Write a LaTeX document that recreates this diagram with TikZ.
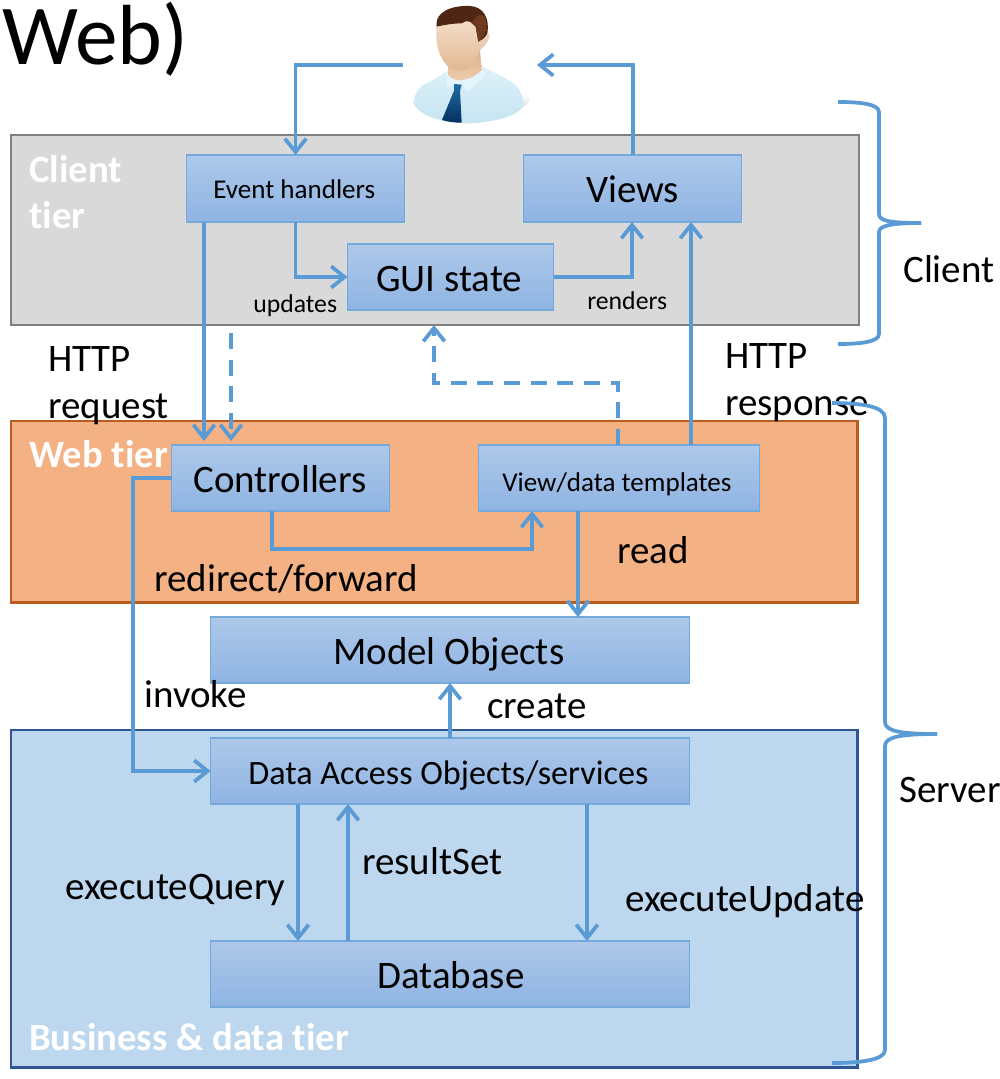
\documentclass[tikz,border=0pt]{standalone}
\usepackage{fontspec}
\setmainfont[Ligatures=NoCommon]{Carlito}
\usetikzlibrary{arrows.meta,positioning,calc}
\definecolor{wire}{HTML}{5B9BD5}
\definecolor{boxtop}{HTML}{ADC8E9}
\definecolor{boxbot}{HTML}{8FB4E3}
\definecolor{webline}{HTML}{B85C20}
\definecolor{webfill}{HTML}{F4B183}
\definecolor{bizline}{HTML}{2F5597}
\definecolor{bizfill}{HTML}{BDD7EE}
\definecolor{hair}{HTML}{4F2613}
\definecolor{hairlight}{HTML}{6E3A1E}
\definecolor{skintop}{HTML}{F6E2CE}
\definecolor{skinbot}{HTML}{E0B48F}
\definecolor{necktop}{HTML}{DDAF8A}
\definecolor{neckbot}{HTML}{F0CFB0}
\definecolor{shirttop}{HTML}{DDF1F9}
\definecolor{shirtbot}{HTML}{C6E4F2}
\definecolor{collar}{HTML}{E3F4FB}
\definecolor{tietop}{HTML}{1F6DA6}
\definecolor{tiebot}{HTML}{06305F}
\tikzset{
  tier/.style={draw=#1,line width=2pt,inner sep=0pt,outer sep=0pt,anchor=north west},
  compbox/.style n args={2}{draw=wire!85,line width=0.9pt,top color=boxtop,bottom color=boxbot,inner sep=0pt,outer sep=0pt,
     anchor=north west,xshift=0.4pt,minimum width=#1*0.75pt,minimum height=#2*0.75pt},
  arr/.style={draw=wire,line width=2.8pt,-{Straight Barb[length=10pt,width=16pt,line width=2.8pt]}},
  darr/.style={arr,dash pattern=on 12pt off 8pt},
  brace/.style={draw=wire,line width=2.8pt},
  lab/.style={font=\fontsize{29.2}{29.2}\selectfont,inner sep=0pt,anchor=base west,yshift=-1.4pt},
  tlab/.style={font=\fontsize{29}{29}\selectfont\bfseries,text=white,inner sep=0pt,anchor=base west,yshift=-1.4pt},
  small/.style={font=\fontsize{20.3}{20.3}\selectfont,inner sep=0pt,anchor=base west,yshift=-1pt},
  tiny/.style={font=\fontsize{19.3}{19.3}\selectfont,inner sep=0pt,anchor=base west,yshift=-1pt},
}
\begin{document}
\begin{tikzpicture}[x=0.75pt,y=-0.75pt]
\useasboundingbox (0,0) rectangle (1000,1079);
% tiers
\node[tier=black!50,fill=black!15,minimum width=636pt,minimum height=142.5pt] (client) at (11,135) {};
\node[tier=webline,fill=webfill,minimum width=635pt,minimum height=136pt] (web) at (11,421) {};
\node[tier=bizline,fill=bizfill,minimum width=635pt,minimum height=253pt] (biz) at (11,730) {};
% components
\node[compbox={218}{67}] (eh) at (186,155) {};
\node[small] at (213,197) {Event handlers};
\node[compbox={218}{67}] (views) at (523,155) {};
\node[lab] at (586,201) {Views};
\node[compbox={206}{66}] (gui) at (347,244) {};
\node[lab] at (376,290) {GUI state};
\node[compbox={218}{66}] (ctrl) at (171,445) {};
\node[lab] at (193,491) {Controllers};
\node[compbox={281}{66}] (vdt) at (478,445) {};
\node[small] at (502,490) {View/data templates};
\node[compbox={479}{66}] (model) at (210,617) {};
\node[lab] at (333,663) {Model Objects};
\node[compbox={479}{66}] (dao) at (210,738) {};
\node[font=\fontsize{25.6}{25.6}\selectfont,inner sep=0pt,anchor=base west,yshift=-1pt] at (248,783) {Data Access Objects/services};
\node[compbox={479}{66}] (db) at (210,941) {};
\node[lab] at (377,987) {Database};
% title
\node[font=\fontsize{64}{64}\selectfont,inner sep=0pt,anchor=base west] (title) at (2,64) {Web)};
% tier labels
\node[tlab] (t1) at (29,181) {Client};
\node[tlab] (t1b) at (29,227) {tier};
\node[tlab] (t2) at (29,466) {Web tier};
\node[tlab] (t3) at (29,1049) {Business \& data tier};
% person
\begin{scope}[shift={(380,0)},x=0.25pt,y=-0.25pt]
 \shade[top color=white,bottom color=black!25,opacity=.6] (330,340) .. controls (400,340) and (450,320) .. (450,295) .. controls (440,280) and (430,280) .. (415,280) -- cycle;
 \shade[top color=shirttop,bottom color=shirtbot] (100,310) .. controls (105,275) and (120,255) .. (150,245) -- (200,215) -- (310,200) -- (385,240) .. controls (415,255) and (430,285) .. (432,315) .. controls (420,345) and (350,368) .. (260,370) .. controls (190,368) and (120,350) .. (100,310) -- cycle;
 \fill[collar] (197,215) -- (200,262) -- (245,250) -- (262,275) -- (318,225) -- (305,195) -- cycle;
 \shade[top color=necktop,bottom color=neckbot] (205,170) -- (205,225) .. controls (225,250) and (270,245) .. (305,210) -- (300,150) -- cycle;
 \shade[top color=skintop,bottom color=skinbot] (170,70) .. controls (165,130) and (175,180) .. (215,208) .. controls (250,225) and (285,195) .. (300,150) .. controls (330,125) and (335,100) .. (320,95) .. controls (300,50) and (200,40) .. (170,70) -- cycle;
 \fill[hair] (170,75) .. controls (165,40) and (210,15) .. (270,18) .. controls (310,20) and (330,55) .. (322,100) .. controls (315,115) and (305,120) .. (295,125) -- (287,80) .. controls (270,60) and (260,60) .. (245,70) .. controls (220,70) and (190,75) .. (170,80) -- cycle;
 \fill[hairlight] (275,70) .. controls (290,40) and (310,35) .. (318,60) .. controls (325,90) and (310,115) .. (295,125) -- (287,80) -- cycle;
 \shade[top color=tietop,bottom color=tiebot] (222,252) -- (245,254) -- (240,272) -- (245,368) .. controls (225,368) and (205,366) .. (186,360) -- (222,272) -- cycle;
\end{scope}
\coordinate (person west) at (403,65);
\coordinate (person east) at (537,65);
% labels
\node[tiny] at (253,311) {updates};
\node[tiny] at (587,308) {renders};
\node[lab] at (48,370) {HTTP};
\node[lab] at (48,417) {request};
\node[lab] at (725,367) {HTTP};
\node[lab] at (725,414) {response};
\node[lab] at (154,590) {redirect/forward};
\node[lab] at (617,562) {read};
\node[lab] at (144,706) {invoke};
\node[lab] at (487,717) {create};
\node[lab] at (65,898) {executeQuery};
\node[lab] at (362,873) {resultSet};
\node[lab] at (625,910) {executeUpdate};
\node[lab] at (903,281) {Client};
\node[lab] at (899,801) {Server};
% connector columns
\coordinate (a) at (204,0);
\coordinate (b) at (231,333);
\coordinate (c) at (272,549);
\coordinate (d) at (532,0);
\coordinate (e) at (578,0);
\coordinate (f) at (618,383);
\coordinate (g) at (434,0);
\coordinate (h) at (691,0);
\coordinate (i) at (133,0);
\coordinate (j) at (298,0);
\coordinate (k) at (348,0);
\coordinate (l) at (587,0);
\coordinate (m) at (632,0);
\coordinate (n) at (633,0);
% connectors
\draw[arr] (person west) -| (eh.north);
\draw[arr] (n |- views.north) -- (n |- person east) -- (person east);
\draw[arr] (eh.south) |- (gui.west);
\draw[arr] (gui.east) -| (m |- views.south);
\draw[arr] (a |- eh.south) -- ($(a |- ctrl.north)+(0,-4)$);
\draw[darr] (b) -- ($(b |- ctrl.north)+(0,-4)$);
\draw[arr] (h |- vdt.north) -- (h |- views.south);
\draw[darr] (f |- vdt.north) -- (f) -| (g |- client.south);
\draw[arr] (c |- ctrl.south) -- (c) -| (d |- vdt.south);
\draw[arr] (e |- vdt.south) -- (e |- model.north);
\draw[arr] (ctrl.west) -| (i |- dao.west) -- (dao.west);
\draw[arr] (dao.north) -- (model.south);
\draw[arr] (j |- dao.south) -- (j |- db.north);
\draw[arr] (k |- db.north) -- (k |- dao.south);
\draw[arr] (l |- dao.south) -- (l |- db.north);
% braces
\coordinate (cb1) at (838,102); \coordinate (cbtip) at (921,223); \coordinate (cb2) at (838,344);
\draw[brace] (cb1) .. controls (860,102) and (879,104) .. (879,112) -- (879,214) .. controls (879,221) and (890,223) .. (cbtip);
\draw[brace] (cbtip) .. controls (890,223) and (879,226) .. (879,232) -- (879,334) .. controls (879,342) and (860,344) .. (cb2);
\coordinate (sb1) at (832,403); \coordinate (sbtip) at (937,734); \coordinate (sb2) at (832,1063);
\draw[brace] (sb1) .. controls (860,403) and (885,406) .. (885,418) -- (885,722) .. controls (885,731) and (900,734) .. (sbtip);
\draw[brace] (sbtip) .. controls (900,734) and (885,737) .. (885,746) -- (885,1050) .. controls (885,1060) and (860,1063) .. (sb2);
\end{tikzpicture}
\end{document}
